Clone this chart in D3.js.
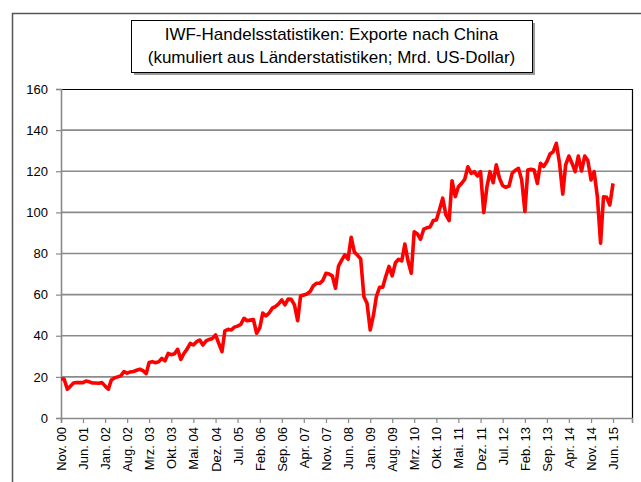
<!DOCTYPE html>
<html lang="de">
<head>
<meta charset="UTF-8">
<title>IWF-Handelsstatistiken: Exporte nach China</title>
<script src="https://cdn.jsdelivr.net/npm/d3@7"></script>
<style>
    body { margin: 0; background: #fff; }
    svg text { font-family: "Liberation Sans", Arial, sans-serif; fill: #000; }
</style>
</head>
<body>
<svg id="CHART" width="641" height="482"></svg>
<script>
// Monatswerte Nov. 2000 bis Jun. 2015 (Mrd. US-Dollar)
var startMonth = new Date(2000, 10, 1);
var endMonth = new Date(2015, 11, 1);
var monthNames = ["Jan.", "Feb.", "Mrz.", "Apr.", "Mai.", "Jun.", "Jul.", "Aug.", "Sep.", "Okt.", "Nov.", "Dez."];
var exportValues = [
    19.0, 19.0, 14.0, 15.5, 17.0, 17.3, 17.2, 17.2, 18.0, 17.6, 17.0, 17.0,
    16.9, 17.2, 15.5, 14.0, 18.5, 19.5, 20.0, 20.5, 22.6, 21.8, 22.4, 22.6,
    23.2, 23.7, 23.0, 21.6, 27.0, 27.4, 26.9, 27.3, 29.0, 27.8, 31.4, 30.8,
    31.2, 33.4, 28.5, 31.5, 33.5, 36.3, 35.5, 37.1, 37.9, 35.5, 37.5, 38.2,
    38.7, 40.4, 36.3, 32.3, 42.4, 43.1, 42.8, 44.2, 44.7, 45.5, 48.5, 47.3,
    47.6, 47.9, 41.2, 44.0, 51.0, 49.7, 51.0, 53.4, 54.2, 55.5, 57.4, 55.0,
    57.8, 57.7, 55.0, 47.3, 59.3, 59.8, 60.3, 61.5, 64.2, 65.5, 65.5, 66.8,
    70.4, 70.0, 69.1, 63.1, 73.9, 76.8, 79.3, 77.2, 87.9, 80.7, 79.1, 77.4,
    59.0, 55.8, 42.8, 50.0, 59.0, 63.6, 63.6, 69.0, 73.7, 69.1, 75.5, 77.2,
    76.4, 84.6, 76.2, 70.4, 90.6, 89.5, 86.9, 91.8, 92.5, 92.9, 96.0, 96.3,
    101.5, 106.9, 98.8, 96.0, 115.4, 107.6, 112.5, 114.1, 116.0, 122.2, 119.0, 119.8,
    117.7, 119.8, 99.9, 112.5, 119.8, 114.4, 123.1, 116.6, 113.0, 112.2, 112.8, 119.0,
    120.5, 121.4, 115.8, 100.4, 120.6, 121.0, 120.6, 114.1, 123.9, 122.3, 124.7, 128.4,
    129.5, 133.6, 123.9, 108.9, 123.1, 127.4, 123.9, 119.8, 127.4, 120.1, 127.4, 125.2,
    115.8, 119.8, 107.6, 85.0, 107.6, 107.3, 103.6, 114.1
];
var yTicks = [0, 20, 40, 60, 80, 100, 120, 140, 160];
var tickStep = 7;
var titleLines = ["IWF-Handelsstatistiken: Exporte nach China", "(kumuliert aus Länderstatistiken; Mrd. US-Dollar)"];

var data = exportValues.map(function(v, i){
    return { date: d3.timeMonth.offset(startMonth, i), value: v };
});

var plot = { left: 61, right: 632, top: 89, bottom: 418 };

var svg = d3.select("#CHART");

// Rahmen des Diagramms
svg.append("rect")
    .attr("x", 12.5).attr("y", 13.5)
    .attr("width", 700).attr("height", 600)
    .attr("fill", "none")
    .attr("stroke", "#555")
    .attr("stroke-width", 1.5);

var x = d3.scaleTime()
    .domain([startMonth, endMonth])
    .range([plot.left, plot.right]);
var y = d3.scaleLinear()
    .domain([0, 160])
    .range([plot.bottom, plot.top]);

// Gitterlinien
svg.append("g")
    .selectAll("line")
    .data(yTicks.filter(function(d){ return d > 0 && d < 160; }))
    .join("line")
        .attr("x1", plot.left).attr("x2", plot.right)
        .attr("y1", function(d){ return y(d); })
        .attr("y2", function(d){ return y(d); })
        .attr("stroke", "#8a8a8a")
        .attr("stroke-width", 1.6);

// Oben und rechts schwarz
svg.append("path")
    .attr("d", "M" + plot.left + "," + (plot.top + 0.5) + "H" + (plot.right + 0.5) + "V" + plot.bottom)
    .attr("fill", "none")
    .attr("stroke", "#000")
    .attr("stroke-width", 1.2);

// y-Achse
var yAxis = svg.append("g")
    .attr("transform", "translate(" + plot.left + ",0)")
    .call(d3.axisLeft(y).tickValues(yTicks).tickSize(5).tickPadding(8));
yAxis.selectAll("text").style("font-size", "13px");

// x-Achse
var xTickDates = d3.range(0, exportValues.length, tickStep).map(function(i){
    return d3.timeMonth.offset(startMonth, i);
});
var xAxis = svg.append("g")
    .attr("transform", "translate(0," + plot.bottom + ")")
    .call(d3.axisBottom(x).tickValues(xTickDates).tickSize(5)
        .tickFormat(function(d){
            return monthNames[d.getMonth()] + " " + String(d.getFullYear() % 100).padStart(2, "0");
        }));
xAxis.selectAll("text")
    .style("font-size", "13px")
    .attr("text-anchor", "end")
    .attr("transform", "rotate(-90)")
    .attr("x", -9)
    .attr("y", 0)
    .attr("dy", "0.35em");

[yAxis, xAxis].forEach(function(a){
    a.select(".domain").attr("stroke", "#8a8a8a").attr("stroke-width", 1.6);
    a.selectAll(".tick line").attr("stroke", "#8a8a8a").attr("stroke-width", 1.2);
});

// Linie
var line = d3.line()
    .x(function(d){ return x(d.date); })
    .y(function(d){ return y(d.value); });
svg.append("path")
    .datum(data)
    .attr("d", line)
    .attr("fill", "none")
    .attr("stroke", "#ff0000")
    .attr("stroke-width", 3.6)
    .attr("stroke-linejoin", "round");

// Titelbox mit Schatten
var box = { x: 131, y: 20, w: 401, h: 52 };
svg.append("rect")
    .attr("x", box.x + 3).attr("y", box.y + 3)
    .attr("width", box.w).attr("height", box.h)
    .attr("fill", "#9a9a9a");
svg.append("rect")
    .attr("x", box.x + 0.5).attr("y", box.y + 0.5)
    .attr("width", box.w).attr("height", box.h)
    .attr("fill", "#fff")
    .attr("stroke", "#000")
    .attr("stroke-width", 1);
svg.append("g")
    .selectAll("text")
    .data(titleLines)
    .join("text")
        .attr("x", box.x + box.w / 2)
        .attr("y", function(d, i){ return box.y + 20 + i * 23; })
        .attr("text-anchor", "middle")
        .style("font-size", "17px")
        .text(function(d){ return d; });
</script>
</body>
</html>
